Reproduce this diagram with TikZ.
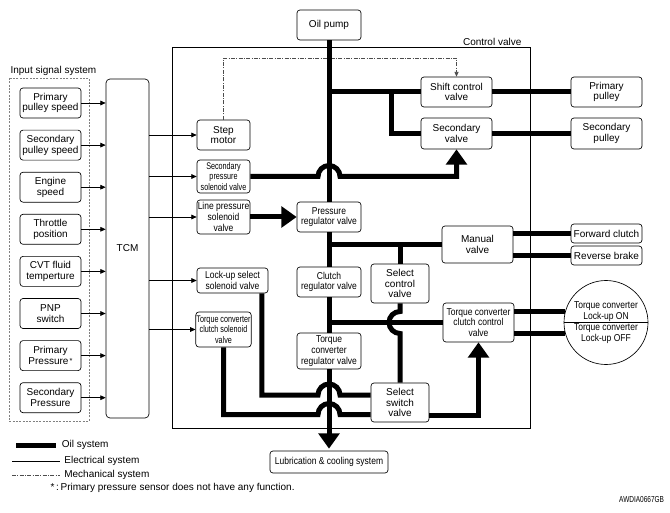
\documentclass[tikz,border=0pt]{standalone}
\usepackage{fontspec}
\setmainfont{Liberation Sans}
\newfontfamily\narrowfont[FakeStretch=0.85]{Liberation Sans}
\newfontfamily\tightfont[FakeStretch=0.75]{Liberation Sans}
\usetikzlibrary{arrows.meta,shapes.multipart}

\newcommand{\boxtext}{\fontsize{7.5}{8}\selectfont}
\newcommand{\narrowtext}{\narrowfont\fontsize{7.5}{8}\selectfont}
\newcommand{\tighttext}{\tightfont\fontsize{7.2}{7.8}\selectfont}

\tikzset{
  valvebox/.style={draw, rounded corners=2.25pt, fill=white, align=center, inner sep=0.5pt, line width=0.5pt, font=\boxtext},
  sensorbox/.style={valvebox, minimum width=45.75pt, minimum height=22.5pt},
  oil/.style={line width=3.75pt},
  oilarrow/.style={oil, -{Triangle[length=11.5pt,width=15.5pt]}},
  elec/.style={line width=0.6pt, -{Triangle[length=4pt,width=3.5pt]}},
  mech/.style={line width=0.5pt, black!70, dash pattern=on 3pt off 1pt on 0.75pt off 1pt},
}

\begin{document}
\begin{tikzpicture}[x=0.75pt,y=0.75pt,yscale=-1,xscale=1]
\useasboundingbox (0,0) rectangle (670,513);

% Frames
\draw[gray, line width=0.6pt, dash pattern=on 1.5pt off 1pt] (9,78) rectangle (89,421);
\node[anchor=west, inner sep=1pt, font=\boxtext] (inlabel) at (9,71) {Input signal system};
\draw[line width=0.6pt] (172,47) rectangle (530,428);
\node[anchor=south east, inner sep=1pt, font=\boxtext] (cvlabel) at (523,47) {Control valve};

% TCM and input signals
\node[valvebox, rounded corners=3pt, minimum width=32.25pt, minimum height=254.25pt] (tcm) at (127.5,248.5) {TCM};
\foreach \name/\txt [count=\i from 0] in {prim/{Primary\\pulley speed}, secs/{Secondary\\pulley speed}, eng/{Engine\\speed}, thr/{Throttle\\position}, cvt/{CVT fluid\\temperture}, pnp/{PNP\\switch}, ppres/{Primary\\Pressure\raisebox{0.6pt}{\fontsize{5.5}{5.5}\selectfont\,*}}, spres/{Secondary\\Pressure}}{
  \node[sensorbox] (\name) at (50.5,{103+42.1*\i}) {\txt};
  \draw[elec] (\name.east) -- (\name.east -| tcm.west);
}

% Valves
\node[valvebox, minimum width=48pt, minimum height=22.5pt] (pump) at (329,25) {Oil pump};
\node[valvebox, minimum width=53.25pt, minimum height=22.5pt] (shift) at (456.5,92) {Shift control\\valve};
\node[valvebox, minimum width=53.25pt, minimum height=23.25pt] (secvalve) at (456.5,133.5) {Secondary\\valve};
\node[valvebox, minimum width=53.25pt, minimum height=22.5pt] (ppulley) at (606.5,92) {Primary\\pulley};
\node[valvebox, minimum width=53.25pt, minimum height=23.25pt] (spulley) at (606.5,133.5) {Secondary\\pulley};
\node[valvebox, minimum width=39.75pt, minimum height=22.5pt] (stepm) at (223.5,135) {Step\\motor};
\node[valvebox, font=\tighttext, minimum width=39.75pt, minimum height=24.75pt] (secsol) at (223.5,176.5) {Secondary\\pressure\\solenoid valve};
\node[valvebox, font=\narrowtext, minimum width=39.75pt, minimum height=25.5pt] (linesol) at (223.5,217) {Line pressure\\solenoid\\valve};
\node[valvebox, font=\narrowtext, minimum width=48pt, minimum height=22.5pt] (presreg) at (329,217) {Pressure\\regulator valve};
\node[valvebox, minimum width=53.25pt, minimum height=27.75pt] (manual) at (477.5,244.5) {Manual\\valve};
\node[valvebox, minimum width=53.25pt, minimum height=14.25pt] (fwd) at (606.5,233.5) {Forward clutch};
\node[valvebox, minimum width=53.25pt, minimum height=14.25pt] (rev) at (606.5,255.5) {Reverse brake};
\node[valvebox, minimum width=43.5pt, minimum height=29.25pt] (selctrl) at (400,283.5) {Select\\control\\valve};
\node[valvebox, font=\narrowtext, minimum width=48pt, minimum height=22.5pt] (clutchreg) at (329,282) {Clutch\\regulator valve};
\node[valvebox, font=\narrowtext, minimum width=53.25pt, minimum height=18.75pt] (lockupsol) at (232.5,280.5) {Lock-up select\\solenoid valve};
\node[valvebox, font=\tighttext, minimum width=39.75pt, minimum height=26.25pt] (tccsol) at (223.5,329.5) {Torque converter\\clutch solenoid\\valve};
\node[valvebox, font=\narrowtext, minimum width=53.25pt, minimum height=29.25pt] (tccctrl) at (478.5,322.5) {Torque converter\\clutch control\\valve};
\node[valvebox, font=\narrowtext, minimum width=48pt, minimum height=27pt] (tcreg) at (329,351) {Torque\\converter\\regulator valve};
\node[valvebox, minimum width=43.5pt, minimum height=29.25pt] (selswitch) at (400,402.5) {Select\\switch\\valve};
\node[valvebox, font=\narrowtext, minimum width=88.5pt, minimum height=16.5pt] (lube) at (329,462) {Lubrication \& cooling system};
\node[circle split, draw, line width=0.5pt, align=center, inner sep=0.5pt, minimum size=63pt, font=\narrowtext] (lockup) at (606,322.5) {Torque converter\\Lock-up ON \nodepart{lower} Torque converter\\Lock-up OFF};

% Electrical lines
\foreach \dst in {stepm,secsol,linesol,lockupsol,tccsol}
  \draw[elec] (\dst.west -| tcm.east) -- (\dst.west);

% Mechanical line
\draw[mech, -{Triangle[length=3.5pt,width=3pt]}] (stepm.north) |- (shift.north |- 0,58) -- (shift.north);

% Oil lines
\draw[oil] (pump) -- (presreg);
\draw[oil] (presreg) -- (clutchreg);
\draw[oil] (clutchreg) -- (tcreg);
\draw[oilarrow, shorten >=1.5pt] (tcreg) -- (lube);
\path (pump.south |- shift.west) coordinate (tee1);
\draw[oil] (tee1) -- (shift.west);
\draw[oil] (391,92) |- (secvalve.west);
\draw[oil] (shift) -- (ppulley);
\draw[oil] (secvalve) -- (spulley);
\path (pump.south |- secsol.east) coordinate (cross1);
\draw[oilarrow] (secsol.east) -- ([xshift=-8.25pt]cross1) arc[start angle=180,end angle=360,radius=11] -| (secvalve.south);
\draw[oilarrow] (linesol) -- (presreg);
\draw[oil] (presreg.south |- manual.west) -- (manual.west);
\draw[oil] (selctrl.north |- manual.west) -- (selctrl.north);
\draw[oil] (manual.east |- fwd.west) -- (fwd.west);
\draw[oil] (manual.east |- rev.west) -- (rev.west);
\draw[oil] (clutchreg.south |- tccctrl.west) -- (tccctrl.west);
\path (selctrl.south |- tccctrl.west) coordinate (cross2);
\draw[oil] (selctrl.south) -- ([yshift=-8.25pt]cross2) arc[start angle=270,end angle=90,radius=11] -- (selswitch.north);
\draw[oil] (lockup.165 -| tccctrl.east) -- (lockup.165);
\draw[oil] (lockup.195 -| tccctrl.east) -- (lockup.195);
\path ([yshift=-5.6pt]selswitch.west) coordinate (ss1);
\path ([yshift=9pt]selswitch.west) coordinate (ss2);
\path ([xshift=22pt]lockupsol.south) coordinate (lu0);
\path (tcreg.south |- ss1) coordinate (cross3);
\path (tcreg.south |- ss2) coordinate (cross4);
\draw[oil] (lu0) |- ([xshift=-8.25pt]cross3) arc[start angle=180,end angle=360,radius=11] -- (ss1);
\draw[oil] (tccsol.south) |- ([xshift=-8.25pt]cross4) arc[start angle=180,end angle=360,radius=11] -- (ss2);
\draw[oilarrow] ([yshift=9.4pt]selswitch.east) -| (tccctrl.south);

% Legend
\coordinate (oilkey) at (16,445);
\draw[oil] (oilkey) -- ++(40,0) node[anchor=west, inner sep=1pt, xshift=1.5pt, font=\boxtext] (oiltext) {Oil system};
\coordinate (eleckey) at (12,461);
\draw[line width=0.6pt] (eleckey) -- ++(48,0) node[anchor=west, inner sep=1pt, xshift=2pt, font=\boxtext] (electext) {Electrical system};
\coordinate (mechkey) at (12,475);
\draw[mech] (mechkey) -- ++(48,0) node[anchor=west, inner sep=1pt, xshift=2pt, text=black, font=\boxtext] (mechtext) {Mechanical system};
\node[anchor=west, inner sep=1pt, font=\boxtext] (note) at (49,488) {*\,:\,Primary pressure sensor does not have any function.};
\node[anchor=east, inner sep=0.5pt, font=\tightfont\fontsize{6.5}{7}\selectfont] (figid) at (665,500) {AWDIA0667GB};

\end{tikzpicture}
\end{document}
